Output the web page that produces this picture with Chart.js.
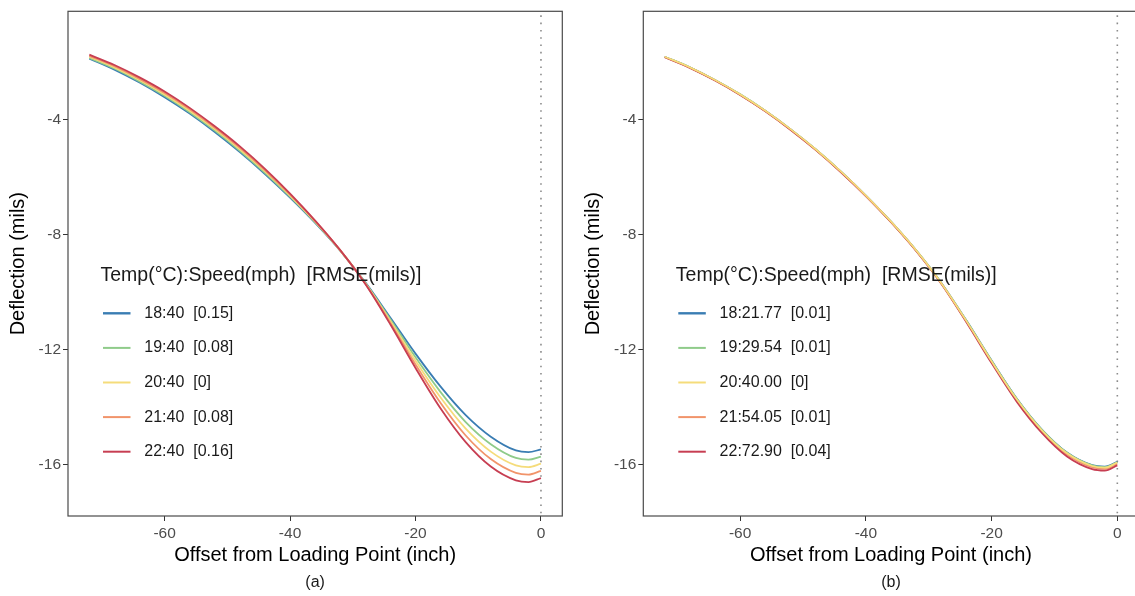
<!DOCTYPE html>
<html lang="en">
<head>
<meta charset="UTF-8">
<title>Deflection basins</title>
<script src="https://cdn.jsdelivr.net/npm/chart.js@4.4.1/dist/chart.umd.min.js"></script>
<style>
  html, body { margin: 0; padding: 0; background: #fff; overflow: hidden; }
  body { width: 1135px; height: 596px; position: relative; }
  canvas { position: absolute; top: 0; }
  #chartA { left: 0; }
  #chartB { left: 570px; }
</style>
</head>
<body>
<canvas id="chartA" width="575" height="596"></canvas>
<canvas id="chartB" width="580" height="596"></canvas>
<script>
// offset from loading point (inch)
const offsets = [-72, -68, -64, -60, -56, -52, -48, -44, -40, -36, -32, -28, -24, -20, -16, -12, -8, -4, -2, 0];
const xTicks = [-60, -40, -20, 0];
const yTicks = [-4, -8, -12, -16];

const legendTitle = 'Temp(°C):Speed(mph)  [RMSE(mils)]';
const colors = ['#3a7db3', '#8fcb8a', '#f5dc7b', '#f1946a', '#c73e52'];

// panel (a): fixed speed 40 mph
const labelsA = ['18:40  [0.15]', '19:40  [0.08]', '20:40  [0]', '21:40  [0.08]', '22:40  [0.16]'];
const a18 = [-1.87, -2.25, -2.70, -3.21, -3.78, -4.42, -5.12, -5.88, -6.70, -7.58, -8.55, -9.65, -10.88, -12.13, -13.28, -14.27, -15.02, -15.50, -15.56, -15.46];
const a19 = [-1.84, -2.21, -2.66, -3.16, -3.73, -4.37, -5.07, -5.84, -6.67, -7.56, -8.55, -9.67, -10.94, -12.26, -13.47, -14.51, -15.28, -15.76, -15.82, -15.71];
const a20 = [-1.80, -2.17, -2.61, -3.11, -3.68, -4.32, -5.02, -5.79, -6.63, -7.54, -8.54, -9.68, -11.00, -12.38, -13.66, -14.74, -15.54, -16.02, -16.08, -15.96];
const a21 = [-1.77, -2.13, -2.57, -3.06, -3.63, -4.27, -4.97, -5.75, -6.60, -7.52, -8.54, -9.70, -11.06, -12.51, -13.85, -14.98, -15.80, -16.28, -16.34, -16.21];
const a22 = [-1.73, -2.09, -2.52, -3.01, -3.58, -4.22, -4.92, -5.70, -6.56, -7.50, -8.53, -9.71, -11.12, -12.63, -14.04, -15.21, -16.06, -16.54, -16.60, -16.46];

// panel (b): speed adjusted per temperature
const labelsB = ['18:21.77  [0.01]', '19:29.54  [0.01]', '20:40.00  [0]', '21:54.05  [0.01]', '22:72.90  [0.04]'];
const b18 = [-1.80, -2.17, -2.61, -3.11, -3.68, -4.32, -5.02, -5.79, -6.63, -7.54, -8.54, -9.67, -10.98, -12.37, -13.69, -14.77, -15.57, -16.01, -16.06, -15.90];
const b19 = [-1.80, -2.17, -2.61, -3.11, -3.68, -4.32, -5.02, -5.79, -6.63, -7.54, -8.54, -9.67, -10.99, -12.38, -13.70, -14.78, -15.58, -16.02, -16.08, -15.91];
const b20 = [-1.80, -2.17, -2.61, -3.11, -3.68, -4.32, -5.02, -5.79, -6.63, -7.54, -8.54, -9.68, -11.00, -12.40, -13.72, -14.80, -15.60, -16.04, -16.10, -15.92];
const b21 = [-1.81, -2.18, -2.62, -3.12, -3.69, -4.33, -5.03, -5.80, -6.64, -7.55, -8.55, -9.69, -11.02, -12.42, -13.75, -14.83, -15.64, -16.08, -16.14, -15.96];
const b22 = [-1.82, -2.19, -2.63, -3.13, -3.70, -4.34, -5.04, -5.81, -6.65, -7.56, -8.56, -9.70, -11.04, -12.46, -13.80, -14.89, -15.71, -16.15, -16.20, -16.02];

const FONT = '"Liberation Sans", Arial, sans-serif';

const panelDecor = {
    id: 'panelDecor',
    beforeDatasetsDraw(chart) {
        const {ctx, chartArea: a, scales} = chart;
        const x0 = scales.x.getPixelForValue(0);
        ctx.save();
        ctx.strokeStyle = '#8c8c8c';
        ctx.lineWidth = 1.6;
        ctx.setLineDash([1.6, 5.7]);
        ctx.beginPath();
        ctx.moveTo(x0, a.top + 4);
        ctx.lineTo(x0, a.bottom);
        ctx.stroke();
        ctx.restore();
    },
    afterDraw(chart, args, opts) {
        const {ctx, chartArea: a} = chart;
        ctx.save();
        // panel border
        ctx.strokeStyle = '#4a4a4a';
        ctx.lineWidth = 1.2;
        ctx.strokeRect(a.left, a.top, a.right - a.left, a.bottom - a.top);

        // legend inside the panel
        ctx.fillStyle = '#1a1a1a';
        ctx.textBaseline = 'middle';
        ctx.textAlign = 'left';
        ctx.font = '19.5px ' + FONT;
        ctx.fillText(legendTitle, a.left + 32.5, a.top + 264.7);
        ctx.font = '16px ' + FONT;
        chart.data.datasets.forEach((ds, i) => {
            const y = a.top + 302 + i * 34.6;
            ctx.strokeStyle = ds.borderColor;
            ctx.lineWidth = i === 0 ? 2.4 : 2;
            ctx.beginPath();
            ctx.moveTo(a.left + 35, y);
            ctx.lineTo(a.left + 62.5, y);
            ctx.stroke();
            ctx.fillText(ds.label, a.left + 76.3, y);
        });

        // caption
        ctx.textAlign = 'center';
        ctx.font = '16px ' + FONT;
        ctx.fillText(opts.caption, (a.left + a.right) / 2, 583);
        ctx.restore();
    }
};

function makeChart(id, labels, series, orders, opt) {
    const datasets = series.map((vals, i) => ({
        label: labels[i],
        data: offsets.map((x, j) => ({x: x, y: vals[j]})),
        borderColor: colors[i],
        borderWidth: 1.8,
        pointRadius: 0,
        cubicInterpolationMode: 'monotone',
        order: orders[i]
    }));
    return new Chart(document.getElementById(id), {
        type: 'line',
        data: {datasets: datasets},
        plugins: [panelDecor],
        options: {
            responsive: false,
            animation: false,
            layout: {padding: {top: 9, bottom: 0, left: 0, right: opt.padRight}},
            plugins: {
                legend: {display: false},
                tooltip: {enabled: false},
                panelDecor: {caption: opt.caption}
            },
            scales: {
                x: {
                    type: 'linear',
                    min: -75.4,
                    max: 3.4,
                    afterBuildTicks: s => { s.ticks = xTicks.map(v => ({value: v})); },
                    afterFit: s => { s.height = 80; },
                    grid: {drawOnChartArea: false, tickLength: 5, color: '#333'},
                    border: {display: false},
                    ticks: {padding: 3, maxRotation: 0, color: '#4d4d4d', font: {family: FONT, size: 15.5}},
                    title: {display: true, text: 'Offset from Loading Point (inch)', color: '#000',
                            font: {family: FONT, size: 20}, padding: {top: 0, bottom: 28.3}}
                },
                y: {
                    type: 'linear',
                    min: -17.78,
                    max: -0.22,
                    afterBuildTicks: s => { s.ticks = yTicks.map(v => ({value: v})); },
                    afterFit: s => { s.width = opt.yWidth; },
                    grid: {drawOnChartArea: false, tickLength: 5, color: '#333'},
                    border: {display: false},
                    ticks: {padding: 2, color: '#4d4d4d', font: {family: FONT, size: 15.5}},
                    title: {display: true, text: 'Deflection (mils)', color: '#000',
                            font: {family: FONT, size: 20}, padding: {top: opt.yTitlePad, bottom: 0}}
                }
            }
        }
    });
}

makeChart('chartA', labelsA, [a18, a19, a20, a21, a22], [4, 3, 2, 1, 0],
    {caption: '(a)', padRight: 12.7, yWidth: 68, yTitlePad: 6.6});
makeChart('chartB', labelsB, [b18, b19, b20, b21, b22], [4, 3, 0, 2, 1],
    {caption: '(b)', padRight: 11.3, yWidth: 73.3, yTitlePad: 11});
</script>
</body>
</html>
